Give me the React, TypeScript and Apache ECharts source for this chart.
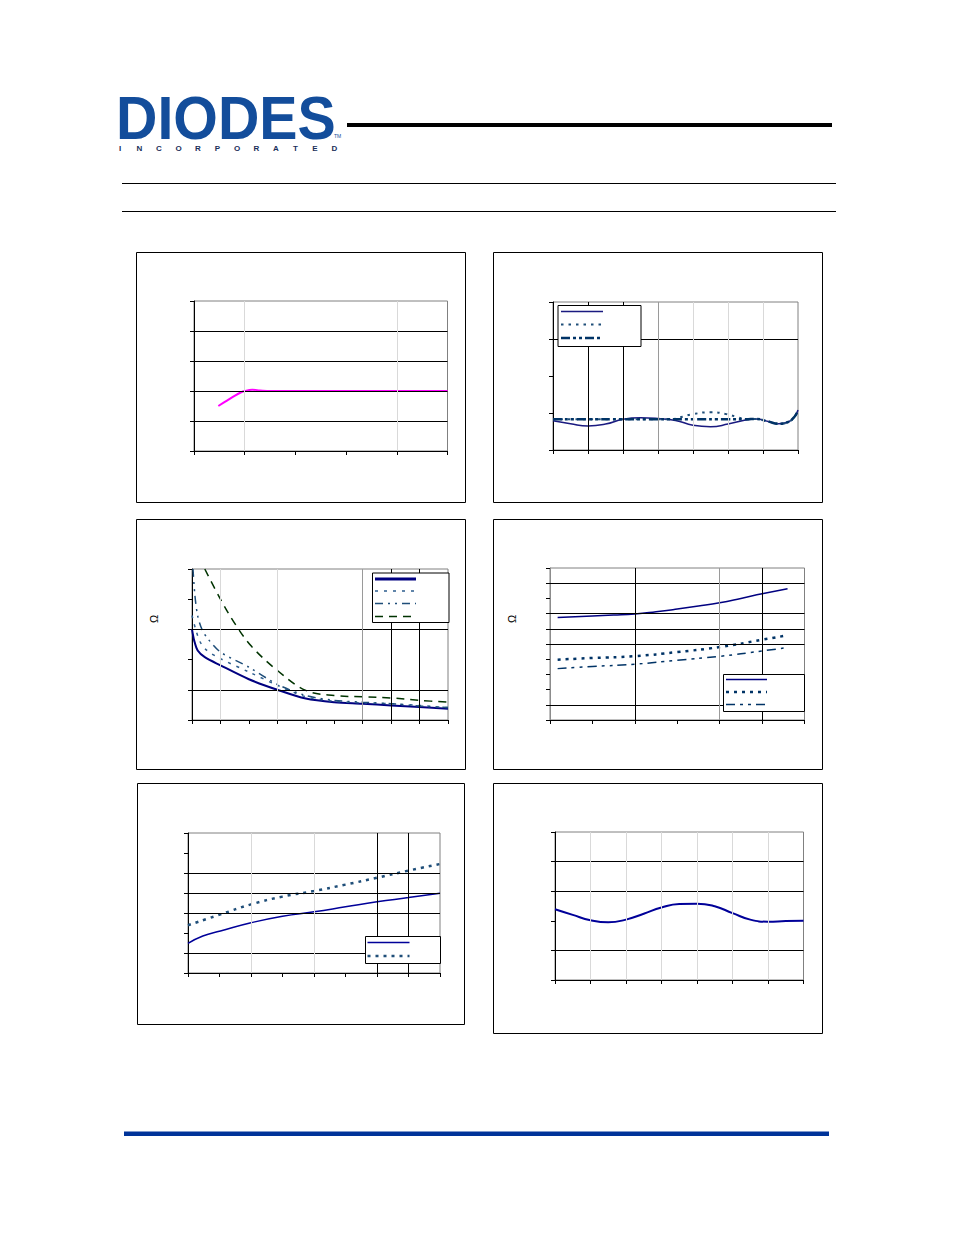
import React, { useEffect, useRef } from "react";
import * as echarts from "echarts";

// ---------- data ----------
// Chart 1 (top-left)
const c1Line: [number, number][] = [[0.48, 1.5], [0.65, 1.68], [0.8, 1.84], [0.92, 1.95], [1.0, 2.0], [1.15, 2.04], [1.3, 2.02], [1.5, 2.0], [2, 2.0], [3, 2.0], [4, 2.0], [5, 2.0]];
// Chart 2 (top-right)
const c2Solid: [number, number][] = [[0, 0.79], [0.5, 0.71], [1.0, 0.65], [1.5, 0.7], [2, 0.83], [2.5, 0.87], [3, 0.85], [3.5, 0.8], [4, 0.67], [4.5, 0.63], [5, 0.7], [5.5, 0.81], [5.8, 0.84], [6.15, 0.77], [6.45, 0.71], [6.7, 0.75], [6.9, 0.9], [7, 1.08]];
const c2Dotted: [number, number][] = [[0, 0.83], [1, 0.83], [2, 0.83], [3, 0.83], [3.45, 0.84], [3.7, 0.9], [4.0, 0.97], [4.5, 1.02], [4.95, 0.97], [5.3, 0.88], [5.5, 0.83], [5.8, 0.84], [6.15, 0.77], [6.45, 0.71], [6.7, 0.75], [6.9, 0.9], [7, 1.08]];
const c2DashDot: [number, number][] = [[0, 0.83], [1, 0.83], [2, 0.83], [3, 0.83], [4, 0.83], [5, 0.83], [5.5, 0.83], [5.8, 0.84], [6.15, 0.77], [6.45, 0.71], [6.7, 0.75], [6.9, 0.9], [7, 1.08]];
// Chart 3 (middle-left)
const c3Solid: [number, number][] = [[0, 3.0], [0.08, 2.62], [0.2, 2.3], [0.45, 2.08], [1, 1.81], [2, 1.35], [3, 1.0], [4, 0.71], [5, 0.59], [6, 0.54], [7, 0.48], [8, 0.43], [9, 0.37]];
const c3Dotted: [number, number][] = [[0, 3.46], [0.13, 3.0], [0.28, 2.6], [0.5, 2.32], [1, 2.03], [2, 1.59], [3, 1.15], [4, 0.77], [5, 0.62], [6, 0.57], [7, 0.54], [8, 0.48], [9, 0.41]];
const c3DashDot: [number, number][] = [[0.035, 5.0], [0.1, 4.15], [0.2, 3.45], [0.35, 3.0], [0.55, 2.7], [1, 2.25], [2, 1.75], [3, 1.18], [4, 0.81], [5, 0.65], [6, 0.59], [7, 0.54], [8, 0.46], [9, 0.41]];
const c3Dashed: [number, number][] = [[0.45, 5.0], [1, 4.0], [1.55, 3.13], [2.1, 2.43], [3, 1.64], [4, 0.98], [5, 0.81], [6, 0.77], [7, 0.73], [8, 0.65], [9, 0.59]];
// Chart 4 (middle-right)
const c4Solid: [number, number][] = [[0.18, 6.75], [1, 6.85], [1.5, 6.9], [2, 6.97], [2.5, 7.12], [3, 7.3], [3.5, 7.5], [4, 7.72], [4.5, 8.0], [5, 8.3], [5.6, 8.64]];
const c4Dotted: [number, number][] = [[0.18, 3.97], [1, 4.08], [2, 4.2], [3, 4.47], [4, 4.8], [5, 5.28], [5.6, 5.57]];
const c4DashDot: [number, number][] = [[0.18, 3.38], [1, 3.52], [2, 3.67], [3, 3.93], [4, 4.19], [5, 4.54], [5.52, 4.74]];
// Chart 5 (bottom-left)
const c5Solid: [number, number][] = [[0, 1.48], [0.47, 1.85], [1.03, 2.1], [2, 2.51], [3, 2.84], [4, 3.06], [5, 3.31], [6, 3.56], [7, 3.77], [8, 3.99]];
const c5Dotted: [number, number][] = [[0, 2.39], [1.03, 2.93], [2, 3.43], [3, 3.82], [4, 4.1], [5, 4.42], [6, 4.76], [7, 5.12], [8, 5.45]];
// Chart 6 (bottom-right)
const c6Line: [number, number][] = [[0, 2.39], [0.5, 2.2], [1, 2.02], [1.5, 1.95], [2, 2.04], [2.5, 2.24], [3, 2.45], [3.5, 2.57], [4, 2.58], [4.5, 2.49], [5, 2.26], [5.5, 2.04], [6, 1.97], [6.5, 1.99], [7, 2.0]];

const logoText = "DIODES";
const subText = "INCORPORATED";
const ohm = "Ω";

// ---------- layout ----------
const grids = [
  { left: 194, top: 301, width: 253.5, height: 150, xMax: 5, yMax: 5 },
  { left: 553, top: 302, width: 245, height: 148, xMax: 7, yMax: 4 },
  { left: 192, top: 569, width: 256, height: 151, xMax: 9, yMax: 5 },
  { left: 550, top: 568, width: 254.5, height: 152, xMax: 6, yMax: 10 },
  { left: 188, top: 833, width: 252, height: 140, xMax: 8, yMax: 7 },
  { left: 555, top: 832, width: 248.5, height: 148, xMax: 7, yMax: 5 },
];

const BLACK = "#000000";
const GRAY = "#9a9a9a";
const LIGHT = "#d9d9d9";

const guideDefs: { h: [number, string][]; v: [number, string][] }[] = [
  { h: [[1, BLACK], [2, BLACK], [3, BLACK], [4, BLACK]], v: [[1, LIGHT], [4, LIGHT]] },
  { h: [[3, BLACK]], v: [[1, BLACK], [2, BLACK], [3, GRAY], [4, LIGHT], [5, LIGHT], [6, LIGHT]] },
  { h: [[1, BLACK], [3, BLACK]], v: [[1, LIGHT], [3, LIGHT], [6, GRAY], [7, BLACK], [8, BLACK]] },
  { h: [[1, BLACK], [5, BLACK], [6, BLACK], [7, BLACK], [9, BLACK]], v: [[2, BLACK], [4, GRAY], [5, BLACK]] },
  { h: [[1, BLACK], [3, BLACK], [4, BLACK], [5, BLACK]], v: [[2, LIGHT], [4, LIGHT], [6, BLACK], [7, BLACK]] },
  { h: [[1, BLACK], [3, BLACK], [4, BLACK]], v: [[1, LIGHT], [2, LIGHT], [3, LIGHT], [4, LIGHT], [5, LIGHT], [6, LIGHT]] },
];

const boxes = [
  [136.5, 252.5, 329, 250],
  [493.5, 252.5, 329, 250],
  [136.5, 519.5, 329, 250],
  [493.5, 519.5, 329, 250],
  [137.5, 783.5, 327, 241],
  [493.5, 783.5, 329, 250],
];

type Sty = { color: string; width: number; dash?: number[] };
const S = {
  c1: { color: "#ff00ff", width: 2 },
  c2s: { color: "#1a1a80", width: 1.5 },
  c2d: { color: "#1f4e79", width: 2, dash: [2.5, 5] },
  c2dd: { color: "#003366", width: 2.5, dash: [9, 3, 3, 3, 3, 3] },
  c3s: { color: "#000080", width: 2 },
  c3d: { color: "#2e5e8e", width: 1.5, dash: [3, 6] },
  c3dd: { color: "#1f4e79", width: 1.5, dash: [8, 5, 2, 5, 2, 5] },
  c3g: { color: "#003300", width: 1.5, dash: [8, 6] },
  c4s: { color: "#000080", width: 1.5 },
  c4d: { color: "#003366", width: 2.5, dash: [3, 5] },
  c4dd: { color: "#003366", width: 1.5, dash: [9, 5, 3, 5, 3, 5] },
  c5s: { color: "#000099", width: 1.5 },
  c5d: { color: "#1f4e79", width: 2.5, dash: [3, 5] },
  c6: { color: "#000099", width: 2 },
};

// legend boxes
const legends: { box: number[]; x0: number; x1: number; items: [number, Sty][] }[] = [
  { box: [558, 305.5, 83, 41], x0: 561, x1: 603, items: [[311.5, S.c2s], [324.5, S.c2d], [338, S.c2dd]] },
  { box: [372.5, 573, 76.5, 49.5], x0: 375, x1: 416, items: [[579, { ...S.c3s, width: 3 }], [591, S.c3d], [603.5, S.c3dd], [616.5, S.c3g]] },
  { box: [723.5, 674.5, 81, 37], x0: 726, x1: 767, items: [[679.5, S.c4s], [692, S.c4d], [704.5, S.c4dd]] },
  { box: [365.5, 936.5, 75, 27], x0: 367.5, x1: 409.5, items: [[942.5, S.c5s], [956, S.c5d]] },
];

function lineSeries(idx: number, data: [number, number][], s: Sty, smooth: number | boolean = 0.35) {
  return {
    type: "line",
    xAxisIndex: idx,
    yAxisIndex: idx,
    data,
    smooth,
    symbol: "none",
    z: 4,
    lineStyle: { color: s.color, width: s.width, type: s.dash ? s.dash : "solid", cap: "butt" },
  };
}

export default function App() {
  const ref = useRef<HTMLDivElement>(null);
  useEffect(() => {
    if (!ref.current) return;
    const chart = echarts.init(ref.current, undefined, { renderer: "svg" });

    const gridOpt = grids.map((g) => ({
      left: g.left, top: g.top, width: g.width, height: g.height,
      show: true, borderColor: "#808080", borderWidth: 1, backgroundColor: "transparent",
      containLabel: false,
    }));
    const axisCommon = {
      type: "value",
      axisLabel: { show: false },
      splitLine: { show: false },
      axisLine: { show: true, lineStyle: { color: "#000", width: 1 } },
      axisTick: { show: true, inside: false, length: 4, lineStyle: { color: "#000", width: 1 } },
    };
    const xAxes = grids.map((g, i) => ({ ...axisCommon, gridIndex: i, min: 0, max: g.xMax, interval: 1 }));
    const yAxes = grids.map((g, i) => ({
      ...axisCommon, gridIndex: i, min: 0, max: g.yMax, interval: 1,
      axisLine: { show: true, lineStyle: { color: i === 3 ? "#8c8c8c" : "#000", width: 1 } },
    }));

    const guideSeries = guideDefs.map((gd, i) => ({
      type: "line",
      xAxisIndex: i,
      yAxisIndex: i,
      data: [],
      silent: true,
      z: 1,
      markLine: {
        silent: true,
        symbol: ["none", "none"],
        label: { show: false },
        animation: false,
        data: [
          ...gd.h.map(([v, c]) => ({ yAxis: v, lineStyle: { color: c, width: 1, type: "solid" } })),
          ...gd.v.map(([v, c]) => ({ xAxis: v, lineStyle: { color: c, width: 1, type: "solid" } })),
        ],
      },
    }));

    const series = [
      ...guideSeries,
      lineSeries(0, c1Line, S.c1),
      lineSeries(1, c2Solid, S.c2s, 0.5),
      lineSeries(1, c2Dotted, S.c2d, 0.5),
      lineSeries(1, c2DashDot, S.c2dd, 0.5),
      lineSeries(2, c3Solid, S.c3s, 0.3),
      lineSeries(2, c3Dotted, S.c3d, 0.3),
      lineSeries(2, c3DashDot, S.c3dd, 0.3),
      lineSeries(2, c3Dashed, S.c3g, 0.35),
      lineSeries(3, c4Solid, S.c4s, 0.5),
      lineSeries(3, c4Dotted, S.c4d, 0.5),
      lineSeries(3, c4DashDot, S.c4dd, 0.5),
      lineSeries(4, c5Solid, S.c5s, 0.5),
      lineSeries(4, c5Dotted, S.c5d, 0.5),
      lineSeries(5, c6Line, S.c6, 0.5),
    ];

    const graphic: any[] = [];
    // page decorations
    graphic.push({
      type: "text", x: 116, y: 87, z: 20, scaleX: 0.94,
      style: { text: logoText, fill: "#134d9b", font: "bold 61px 'Liberation Sans', Arial, sans-serif", textVerticalAlign: "top" },
    });
    graphic.push({
      type: "text", x: 334, y: 133, z: 20,
      style: { text: "TM", fill: "#134d9b", font: "5px 'Liberation Sans', sans-serif" },
    });
    subText.split("").forEach((ch, i) => {
      graphic.push({
        type: "text", x: 120 + i * 19.5, y: 148.5, z: 20,
        style: { text: ch, fill: "#1b2f5a", font: "bold 8px 'Liberation Sans', sans-serif", textAlign: "center", textVerticalAlign: "middle" },
      });
    });
    graphic.push({ type: "rect", z: 20, shape: { x: 347, y: 123, width: 485, height: 4 }, style: { fill: "#000" } });
    graphic.push({ type: "line", z: 20, shape: { x1: 122, y1: 183.5, x2: 836, y2: 183.5 }, style: { stroke: "#000", lineWidth: 1 } });
    graphic.push({ type: "line", z: 20, shape: { x1: 122, y1: 211.5, x2: 836, y2: 211.5 }, style: { stroke: "#000", lineWidth: 1 } });
    graphic.push({ type: "rect", z: 20, shape: { x: 124, y: 1131.5, width: 705, height: 4.5 }, style: { fill: "#003399" } });
    // chart frames
    boxes.forEach(([x, y, w, h]) => {
      graphic.push({ type: "rect", z: 0, shape: { x, y, width: w, height: h }, style: { fill: "none", stroke: "#000", lineWidth: 1 } });
    });
    // ohm axis titles
    [[154, 619], [512, 619]].forEach(([x, y]) => {
      graphic.push({
        type: "text", x, y, z: 20, rotation: Math.PI / 2,
        style: { text: ohm, fill: "#000", font: "11px 'Liberation Sans', Arial, sans-serif", textAlign: "center", textVerticalAlign: "middle" },
      });
    });
    // legends
    legends.forEach((lg) => {
      graphic.push({ type: "rect", z: 10, shape: { x: lg.box[0], y: lg.box[1], width: lg.box[2], height: lg.box[3] }, style: { fill: "#fff", stroke: "#000", lineWidth: 1 } });
      lg.items.forEach(([y, s]) => {
        graphic.push({
          type: "line", z: 11,
          shape: { x1: lg.x0, y1: y, x2: lg.x1, y2: y },
          style: { stroke: s.color, lineWidth: s.width, lineDash: s.dash || null, lineCap: "butt" },
        });
      });
    });

    chart.setOption({
      animation: false,
      backgroundColor: "#ffffff",
      grid: gridOpt,
      xAxis: xAxes,
      yAxis: yAxes,
      series,
      graphic,
    });
    return () => chart.dispose();
  }, []);

  return <div ref={ref} style={{ position: "absolute", left: 0, top: 0, width: 954, height: 1235 }} />;
}
